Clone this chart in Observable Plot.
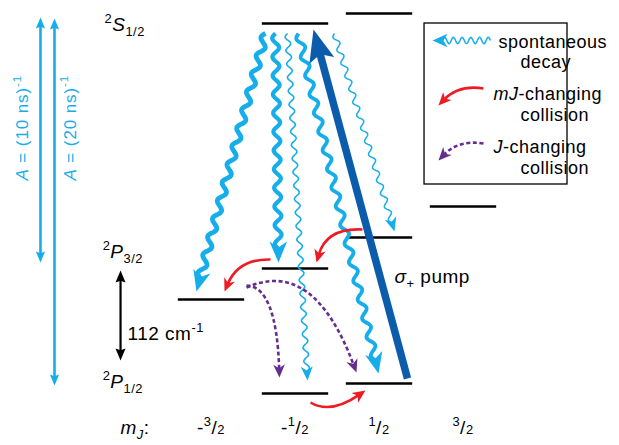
<!DOCTYPE html>
<html><head><meta charset="utf-8">
<script src="https://cdn.jsdelivr.net/npm/d3@7"></script>
<script src="https://cdn.jsdelivr.net/npm/@observablehq/plot@0.6"></script>
<style>
body{margin:0;background:#fff;}
#chart svg{display:block;}
</style></head><body><div id="chart"></div>
<script>
// ---------------- data (mJ on x, energy in arbitrary units on y) ----------------
const levels = [
  {term: "2S1/2", mJ: -0.5, E: 377}, {term: "2S1/2", mJ: 0.5, E: 387},
  {term: "2P3/2", mJ: -1.5, E: 101}, {term: "2P3/2", mJ: -0.5, E: 132},
  {term: "2P3/2", mJ: 0.5, E: 163}, {term: "2P3/2", mJ: 1.5, E: 194},
  {term: "2P1/2", mJ: -0.5, E: 7}, {term: "2P1/2", mJ: 0.5, E: 17}
];
const levelHalfWidth = 0.395;

// spontaneous decays from 2S1/2 (weight ~ branching strength)
const decays = [
  {x1: -0.851, E1: 367, x2: -1.673, E2: 109, weight: 4.8},
  {x1: -0.732, E1: 367, x2: -0.696, E2: 138, weight: 4.2},
  {x1: -0.589, E1: 367, x2: -0.351, E2: 20, weight: 1.6},
  {x1: -0.458, E1: 367, x2: 0.494, E2: 27, weight: 3.8},
  {x1: -0.030, E1: 367, x2: 0.685, E2: 169, weight: 1.5}
];
const pump = [{x1: 0.839, E1: 22, x2: -0.280, E2: 371}];

const mJCollisions = [
  {x1: 0.304, E1: 171, cx: -0.125, cE: 173, x2: -0.244, E2: 138},
  {x1: -0.792, E1: 141, cx: -1.173, cE: 142, x2: -1.339, E2: 109},
  {x1: -0.315, E1: -2, cx: -0.077, cE: -14, x2: 0.339, E2: 10}
];
const JCollisions = [
  {x1: -1.077, E1: 115, cx: -0.720, cE: 114, x2: -0.685, E2: 23},
  {x1: -1.077, E1: 113, cx: -0.280, cE: 143, x2: 0.232, E2: 28}
];

const rates = [
  {label: "*A* = (10 ns)^{-1}", x: -3.53, E1: 383, E2: 138, lx: -3.679, lE: 220},
  {label: "*A* = (20 ns)^{-1}", x: -3.363, E1: 382, E2: 15, lx: -3.113, lE: 220}
];
const splitting = [{label: "112 cm^{-1}", x: -2.577, E1: 130, E2: 40, lx: -2.494, lE: 61}];

const termLabels = [
  {text: "^{2}*S*_{1/2}", x: -2.767, E: 370},
  {text: "^{2}*P*_{3/2}", x: -2.79, E: 143},
  {text: "^{2}*P*_{1/2}", x: -2.79, E: 13}
];
const mJTicks = [-1.5, -0.5, 0.5, 1.5];
const mJTickLabels = ["-^{3}/~{2}", "-^{1}/~{2}", "^{1}/~{2}", "^{3}/~{2}"];
const axisLabel = [{text: "*m*_{*J*}:", x: -2.577, E: -33}];
const pumpLabel = [{text: "*σ*_{+} pump", x: 0.685, E: 118}];

// legend
const legendBox = [{x1: 1.042, x2: 2.744, E1: 377, E2: 216}];
const legendWave = [{x1: 1.827, E1: 360, x2: 1.137, E2: 360}];
const legendMJ = [{x1: 1.744, E1: 312, cx: 1.446, cE: 316, x2: 1.208, E2: 295}];
const legendJ = [{x1: 1.744, E1: 257, cx: 1.446, cE: 261, x2: 1.208, E2: 240}];
const legendTexts = [
  {text: "spontaneous", x: 1.923, E: 353}, {text: "decay", x: 2.185, E: 333},
  {text: "*mJ*-changing", x: 1.863, E: 301}, {text: "collision", x: 2.185, E: 280},
  {text: "*J*-changing", x: 1.863, E: 248}, {text: "collision", x: 2.185, E: 227}
];

// ---------------- styles ----------------
const CYAN = "#15aeea", BLUE = "#0c5cac", RED = "#ed1c24", PURPLE = "#662d91";
const FONT = "Liberation Sans, Arial, Helvetica, sans-serif";

// ---------------- scales ----------------
const xOpt = {type: "linear", domain: [-4, 3.5], range: [0.5, 630.5]};
const yOpt = {type: "linear", domain: [-45, 400], range: [445, 0]};
const sx = Plot.scale({x: xOpt}), sy = Plot.scale({y: yOpt});
const rot = (xa, Ea, xb, Eb) => {
  const dx = sx.apply(xb) - sx.apply(xa), dy = sy.apply(Eb) - sy.apply(Ea);
  return Math.atan2(dx, -dy) * 180 / Math.PI;
};

// arrowhead symbol: tip at origin, pointing up
const headSymbol = (ratio, notch = 0.72) => ({
  draw(ctx, size) {
    const L = Math.sqrt(size / Math.PI), w = L * ratio;
    ctx.moveTo(0, 0); ctx.lineTo(w, L); ctx.lineTo(0, L * notch); ctx.lineTo(-w, L); ctx.closePath();
  }
});

// custom curves
const collector = (end) => (ctx) => {
  let pts;
  return {areaStart() {}, areaEnd() {}, lineStart() { pts = []; },
    point(x, y) { pts.push([+x, +y]); }, lineEnd() { end(ctx, pts); }};
};
const waveCurve = (amp, wl, stopEnd) => collector((ctx, pts) => {
  const [x0, y0] = pts[0], [x1, y1] = pts[pts.length - 1];
  const dx = x1 - x0, dy = y1 - y0, L = Math.hypot(dx, dy);
  const ux = dx / L, uy = dy / L, nx = -uy, ny = ux;
  const len = L - stopEnd;
  const n = Math.max(1, Math.round(2 * len / wl)), w = 2 * len / n;
  const steps = Math.ceil(len * 1.5);
  ctx.moveTo(x0, y0);
  for (let i = 1; i <= steps; i++) {
    const s = len * i / steps, o = amp * Math.sin(2 * Math.PI * s / w);
    ctx.lineTo(x0 + ux * s + nx * o, y0 + uy * s + ny * o);
  }
});
const shortCurve = (s0, s1) => collector((ctx, pts) => {
  const [x0, y0] = pts[0], [x1, y1] = pts[pts.length - 1];
  const dx = x1 - x0, dy = y1 - y0, L = Math.hypot(dx, dy), ux = dx / L, uy = dy / L;
  ctx.moveTo(x0 + ux * s0, y0 + uy * s0); ctx.lineTo(x1 - ux * s1, y1 - uy * s1);
});
const quadCurve = (stopEnd) => collector((ctx, pts) => {
  const [p0, c, p1] = pts;
  const dx = p1[0] - c[0], dy = p1[1] - c[1], L = Math.hypot(dx, dy);
  ctx.moveTo(p0[0], p0[1]);
  ctx.quadraticCurveTo(c[0], c[1], p1[0] - dx / L * stopEnd, p1[1] - dy / L * stopEnd);
});

// ---------------- marks ----------------
const marks = [];
// levels
marks.push(Plot.link(levels, {x1: d => d.mJ - levelHalfWidth, x2: d => d.mJ + levelHalfWidth, y1: "E", y2: "E", stroke: "#000", strokeWidth: 2.6}));

// decays (wavy)
for (const d of decays) {
  const thick = d.weight >= 3;
  const L = thick ? 21 : 14, ratio = thick ? 0.42 : 0.43;
  marks.push(Plot.link([d], {x1: "x1", y1: "E1", x2: "x2", y2: "E2", stroke: CYAN, strokeWidth: d.weight,
    curve: waveCurve(thick ? 3.4 : 2.6, thick ? 19 : 13.5, L * 0.66), strokeLinecap: "butt"}));
  marks.push(Plot.dot([d], {x: "x2", y: "E2", r: L, rotate: rot(d.x1, d.E1, d.x2, d.E2), symbol: headSymbol(ratio), fill: CYAN, stroke: "none"}));
}

// collision arrows
const curvePts = (arr) => arr.flatMap((d, i) => [{id: i, x: d.x1, E: d.E1}, {id: i, x: d.cx, E: d.cE}, {id: i, x: d.x2, E: d.E2}]);
const collisionMarks = (arr, color, dash, L) => {
  const out = [Plot.line(curvePts(arr), {x: "x", y: "E", z: "id", stroke: color, strokeWidth: 2.6, strokeDasharray: dash, curve: quadCurve(L * 0.6), strokeLinecap: "butt"})];
  for (const d of arr) out.push(Plot.dot([d], {x: "x2", y: "E2", r: L, rotate: rot(d.cx, d.cE, d.x2, d.E2), symbol: headSymbol(0.45), fill: color, stroke: "none"}));
  return out;
};
marks.push(...collisionMarks(mJCollisions, RED, null, 13));
marks.push(...collisionMarks(JCollisions, PURPLE, "4,2.6", 13));

// pump
for (const d of pump) {
  marks.push(Plot.link([d], {x1: "x1", y1: "E1", x2: "x2", y2: "E2", stroke: BLUE, strokeWidth: 7.5, curve: shortCurve(0, 20)}));
  marks.push(Plot.dot([d], {x: "x2", y: "E2", r: 32, rotate: rot(d.x1, d.E1, d.x2, d.E2), symbol: headSymbol(0.4, 0.8), fill: BLUE, stroke: "none"}));
}

// double-headed vertical arrows
const doubleArrow = (arr, color, L, sw) => {
  const out = [Plot.link(arr, {x1: "x", x2: "x", y1: "E1", y2: "E2", stroke: color, strokeWidth: sw, curve: shortCurve(L * 0.7, L * 0.7)})];
  out.push(Plot.dot(arr, {x: "x", y: "E1", r: L, rotate: 0, symbol: headSymbol(0.42, 0.85), fill: color, stroke: "none"}));
  out.push(Plot.dot(arr, {x: "x", y: "E2", r: L, rotate: 180, symbol: headSymbol(0.42, 0.85), fill: color, stroke: "none"}));
  return out;
};
marks.push(...doubleArrow(rates, CYAN, 11, 2.6));
marks.push(...doubleArrow(splitting, "#000", 12, 2.2));

// legend
marks.push(Plot.rect(legendBox, {x1: "x1", x2: "x2", y1: "E1", y2: "E2", fill: "white", stroke: "#000", strokeWidth: 1.3}));
for (const d of legendWave) {
  marks.push(Plot.link([d], {x1: "x1", y1: "E1", x2: "x2", y2: "E2", stroke: CYAN, strokeWidth: 1.5, curve: waveCurve(3.2, 8.5, 10)}));
  marks.push(Plot.dot([d], {x: "x2", y: "E2", r: 15, rotate: rot(d.x1, d.E1, d.x2, d.E2), symbol: headSymbol(0.45), fill: CYAN, stroke: "none"}));
}
marks.push(...collisionMarks(legendMJ, RED, null, 13));
marks.push(...collisionMarks(legendJ, PURPLE, "4,2.6", 13));

// texts
const txt = (data, o) => Plot.text(data, {fontFamily: FONT, fill: "#000", lineAnchor: "bottom", ...o});
marks.push(txt(rates, {x: "lx", y: "lE", text: "label", rotate: -90, textAnchor: "start", fontSize: 17, fill: CYAN}));
marks.push(txt(splitting, {x: "lx", y: "lE", text: "label", textAnchor: "start", fontSize: 19}));
marks.push(txt(termLabels, {x: "x", y: "E", text: "text", textAnchor: "start", fontSize: 19}));
marks.push(txt(axisLabel, {x: "x", y: "E", text: "text", textAnchor: "start", fontSize: 19}));
marks.push(txt(mJTicks, {x: d => d, y: () => -33, text: (d, i) => mJTickLabels[i], textAnchor: "middle", fontSize: 19}));
marks.push(txt(pumpLabel, {x: "x", y: "E", text: "text", textAnchor: "start", fontSize: 19}));
marks.push(txt(legendTexts, {x: "x", y: "E", text: "text", textAnchor: "start", fontSize: 18}));

const svg = Plot.plot({
  width: 619, height: 445, margin: 0,
  x: {...xOpt, axis: null}, y: {...yOpt, axis: null},
  style: {background: "white", overflow: "hidden"},
  marks
});

// rich text: ^{sup} _{sub} ~{small on baseline} *italic*
function rich(root) {
  const re = /\^\{([^}]*)\}|_\{([^}]*)\}|~\{([^}]*)\}|\*([^*]*)\*|([^\^_~*]+)/g;
  d3.select(root).selectAll("text").each(function () {
    const src = this.textContent;
    this.style.letterSpacing = src.startsWith("*A*") ? "0.9px" : "0.5px";
    if (!/[\^_~*]/.test(src)) return;
    const segs = [];
    let m;
    while ((m = re.exec(src))) {
      if (m[1] != null) segs.push({mode: "sup", t: m[1]});
      else if (m[2] != null) segs.push({mode: "sub", t: m[2]});
      else if (m[3] != null) segs.push({mode: "small", t: m[3]});
      else if (m[4] != null) segs.push({mode: "n", t: m[4], it: true});
      else segs.push({mode: "n", t: m[5]});
    }
    this.textContent = "";
    let cur = 0;
    for (const s of segs) {
      let t = s.t, it = !!s.it;
      if (/^\*.*\*$/.test(t)) { t = t.slice(1, -1); it = true; }
      const scale = s.mode === "n" ? 1 : 0.68;
      const target = s.mode === "sup" ? -0.42 : s.mode === "sub" ? 0.3 : 0;
      const ts = document.createElementNS("http://www.w3.org/2000/svg", "tspan");
      const dlt = target - cur;
      if (dlt) ts.setAttribute("dy", (dlt / scale).toFixed(3) + "em");
      cur = target;
      if (scale !== 1) ts.setAttribute("font-size", scale * 100 + "%");
      if (it) ts.setAttribute("font-style", "italic");
      ts.textContent = t;
      this.appendChild(ts);
    }
  });
}
rich(svg);
document.getElementById("chart").appendChild(svg);
</script>
</body></html>
